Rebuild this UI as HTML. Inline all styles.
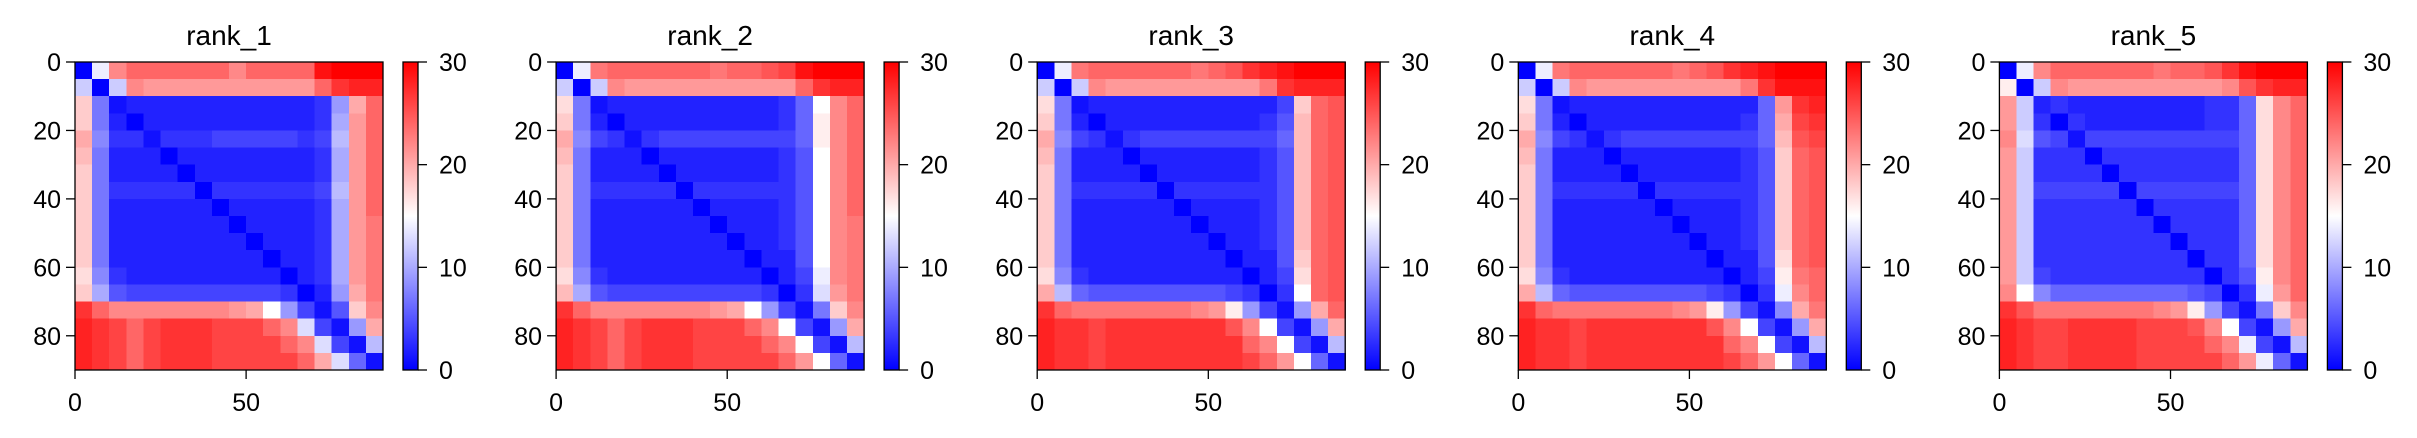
<!DOCTYPE html>
<html><head><meta charset="utf-8">
<style>
html,body{margin:0;padding:0;background:#fff;}
svg{display:block;font-family:"Liberation Sans","DejaVu Sans",sans-serif;}
</style></head>
<body>
<svg id="fig" width="2417" height="438" viewBox="0 0 2417 438" xmlns="http://www.w3.org/2000/svg">
<defs>
<linearGradient id="bwr" x1="0" y1="1" x2="0" y2="0">
<stop offset="0" stop-color="#0000ff"/><stop offset="0.5" stop-color="#ffffff"/><stop offset="1" stop-color="#ff0000"/>
</linearGradient>
</defs>
</svg>
<script>
const panelTitles = ["rank_1","rank_2","rank_3","rank_4","rank_5"];
const xTicks = [0,50];
const yTicks = [0,20,40,60,80];
const cbTicks = [0,10,20,30];
const nRes = 90;
const vMax = 30;
const pae1 = [
[0,14,22,24,24,24,24,24,24,22,24,24,24,24,29,30,30,30],
[12,0,12,22,21,21,21,21,21,21,21,21,21,21,24,27,28,28],
[18,7,1,2,2,2,2,2,2,2,2,2,2,2,3,9,20,24],
[18,7,2,0,2,2,2,2,2,2,2,2,2,2,3,10,21,24],
[20,8,3,3,1,3,3,3,4,4,4,4,4,3,4,11,21,24],
[19,7,2,2,2,0,2,2,2,2,2,2,2,2,3,10,21,24],
[18,7,2,2,2,2,0,2,2,2,2,2,2,2,3,10,21,24],
[18,7,3,3,3,3,3,0,3,3,3,3,3,3,4,11,21,24],
[18,7,2,2,2,2,2,2,0,2,2,2,2,2,3,10,21,24],
[18,7,2,2,2,2,2,2,2,0,2,2,2,2,3,10,21,23],
[18,7,2,2,2,2,2,2,2,2,0,2,2,2,3,10,21,23],
[18,7,2,2,2,2,2,2,2,2,2,0,2,2,3,10,21,23],
[17,8,3,2,2,2,2,2,2,2,2,2,0,2,3,10,21,23],
[18,10,5,4,4,4,4,4,4,4,4,4,3,0,2,9,20,23],
[27,24,22,22,22,22,22,22,22,21,20,15,9,4,1,5,18,22],
[28,27,26,24,26,27,27,27,26,26,26,24,22,13,4,1,9,20],
[28,27,26,24,26,27,27,27,26,26,26,26,24,22,13,4,1,11],
[28,27,26,24,26,27,27,27,26,26,26,26,26,24,20,13,6,1]];
const pae2 = [
[0,14,23,24,24,24,24,24,24,23,24,24,25,26,29,30,30,30],
[12,0,12,22,21,21,21,21,21,21,21,21,21,21,24,27,28,28],
[17,7,1,2,2,2,2,2,2,2,2,2,2,3,6,15,22,24],
[18,7,2,0,2,2,2,2,2,2,2,2,2,3,6,16,22,24],
[20,8,4,3,1,3,4,4,4,4,4,4,4,4,6,16,22,24],
[19,7,2,2,2,0,2,2,2,2,2,2,2,3,5,15,22,24],
[18,7,2,2,2,2,0,2,2,2,2,2,2,3,5,15,22,24],
[18,7,3,3,3,3,3,0,3,3,3,3,3,3,5,15,22,24],
[18,7,2,2,2,2,2,2,0,2,2,2,2,3,5,15,22,24],
[18,7,2,2,2,2,2,2,2,0,2,2,2,3,5,15,22,23],
[18,7,2,2,2,2,2,2,2,2,0,2,2,3,5,15,22,23],
[18,7,2,2,2,2,2,2,2,2,2,0,2,2,5,15,22,23],
[17,8,3,2,2,2,2,2,2,2,2,2,0,2,4,14,22,23],
[19,10,5,4,4,4,4,4,4,4,4,4,3,0,3,13,21,23],
[27,24,22,22,22,22,22,22,22,21,20,15,9,4,1,7,18,22],
[28,27,26,24,26,27,27,27,26,26,26,24,22,15,4,1,9,20],
[28,27,26,24,26,27,27,27,26,26,26,26,24,22,15,4,1,11],
[28,27,26,24,26,27,27,27,26,26,26,26,26,24,21,15,6,1]];
const pae3 = [
[0,14,23,24,24,24,24,24,24,23,24,25,27,28,29,30,30,30],
[12,0,12,22,21,21,21,21,21,21,21,21,21,23,27,28,28,28],
[17,7,1,2,2,2,2,2,2,2,2,2,2,2,4,18,24,25],
[18,7,2,0,2,2,2,2,2,2,2,2,2,3,5,19,24,25],
[20,8,4,3,1,3,4,4,4,4,4,4,4,4,6,19,24,25],
[19,7,2,2,2,0,2,2,2,2,2,2,2,3,5,19,24,25],
[18,7,2,2,2,2,0,2,2,2,2,2,2,3,5,19,24,25],
[18,7,3,3,3,3,3,0,3,3,3,3,3,3,5,19,24,25],
[18,7,2,2,2,2,2,2,0,2,2,2,2,3,5,19,24,25],
[18,7,2,2,2,2,2,2,2,0,2,2,2,3,5,19,24,25],
[18,7,2,2,2,2,2,2,2,2,0,2,2,3,5,19,24,25],
[18,7,2,2,2,2,2,2,2,2,2,0,2,2,5,18,24,25],
[17,8,3,2,2,2,2,2,2,2,2,2,0,2,4,17,24,25],
[20,11,6,5,5,5,5,5,5,5,5,4,3,0,3,15,24,25],
[27,24,23,23,23,23,23,23,23,22,21,16,9,4,1,9,20,24],
[28,27,27,26,27,27,27,27,27,27,27,25,22,15,4,1,9,20],
[28,27,27,26,27,27,27,27,27,27,27,27,24,22,15,4,1,11],
[28,27,27,26,27,27,27,27,27,27,27,27,26,24,21,15,6,1]];
const pae4 = [
[0,14,23,24,24,24,24,24,24,23,24,25,27,28,29,30,30,30],
[12,0,12,22,21,21,21,21,21,21,21,21,21,23,27,29,29,29],
[17,7,1,2,2,2,2,2,2,2,2,2,2,2,6,21,27,28],
[18,7,2,0,2,2,2,2,2,2,2,2,2,3,6,20,26,27],
[20,8,4,3,1,3,4,4,4,4,4,4,4,4,6,19,25,26],
[19,7,2,2,2,0,2,2,2,2,2,2,2,3,5,18,24,25],
[18,7,2,2,2,2,0,2,2,2,2,2,2,3,5,18,24,25],
[18,7,3,3,3,3,3,0,3,3,3,3,3,3,5,18,24,25],
[18,7,2,2,2,2,2,2,0,2,2,2,2,3,5,18,24,25],
[18,7,2,2,2,2,2,2,2,0,2,2,2,3,5,18,24,25],
[18,7,2,2,2,2,2,2,2,2,0,2,2,3,5,18,24,25],
[18,7,2,2,2,2,2,2,2,2,2,0,2,2,5,17,24,25],
[17,8,3,2,2,2,2,2,2,2,2,2,0,2,4,16,23,24],
[20,11,6,5,5,5,5,5,5,5,5,4,3,0,3,14,22,24],
[27,24,23,23,23,23,23,23,23,22,21,16,9,4,1,8,20,23],
[28,27,27,26,27,27,27,27,27,27,27,25,22,15,4,1,9,20],
[28,27,27,26,27,27,27,27,27,27,27,27,24,22,15,4,1,11],
[28,27,27,26,27,27,27,27,27,27,27,27,26,24,21,15,6,1]];
const pae5 = [
[0,14,22,24,24,24,24,24,24,23,24,24,25,27,29,30,30,30],
[16,0,12,22,21,21,21,21,21,21,21,21,21,22,25,27,28,28],
[21,12,2,3,2,2,2,2,2,2,2,2,3,3,6,17,22,24],
[21,12,3,0,3,2,2,2,2,2,2,2,3,3,6,17,22,24],
[22,13,5,4,1,4,4,4,4,4,4,4,4,4,6,17,22,24],
[21,12,3,3,3,0,3,3,3,3,3,3,3,3,6,17,22,24],
[21,12,3,3,3,3,0,3,3,3,3,3,3,3,6,17,22,24],
[21,12,4,4,4,4,4,0,4,4,4,4,4,4,6,17,22,24],
[21,12,3,3,3,3,3,3,0,3,3,3,3,3,6,17,22,24],
[21,12,3,3,3,3,3,3,3,0,3,3,3,3,6,17,22,24],
[21,12,3,3,3,3,3,3,3,3,0,3,3,3,6,17,22,24],
[21,12,3,3,3,3,3,3,3,3,3,0,3,3,6,17,22,24],
[21,12,4,3,3,3,3,3,3,3,3,3,0,3,5,16,22,24],
[22,15,8,6,6,6,6,6,6,6,6,5,4,0,3,14,21,24],
[27,25,23,23,23,23,23,23,23,22,21,16,9,4,1,7,18,22],
[28,27,26,26,27,27,27,27,26,26,26,25,22,15,4,1,9,20],
[28,27,26,26,27,27,27,27,26,26,26,26,24,22,14,4,1,11],
[28,27,26,26,27,27,27,27,26,26,26,26,26,24,21,14,6,1]];
const paeData = [pae1,pae2,pae3,pae4,pae5];

const NS = "http://www.w3.org/2000/svg";
const svg = document.getElementById("fig");
const axTop = 62, axSize = 308, firstLeft = 75, panelStep = 481.1;
const cbOff = 328, cbW = 15;

function bwr(v){
  let t = Math.max(0, Math.min(1, v / vMax));
  let r,g,b;
  if (t < 0.5){ const s = t/0.5; r = Math.round(255*s); g = r; b = 255; }
  else { const s = (t-0.5)/0.5; r = 255; g = Math.round(255*(1-s)); b = g; }
  return `rgb(${r},${g},${b})`;
}
function mk(tag, attrs, parent){
  const e = document.createElementNS(NS, tag);
  for (const k in attrs) e.setAttribute(k, attrs[k]);
  (parent||svg).appendChild(e);
  return e;
}
function txt(s, attrs, parent){
  const e = mk("text", attrs, parent);
  e.textContent = s;
  return e;
}

paeData.forEach((M, p) => {
  const left = firstLeft + p*panelStep;
  const sx = v => left + v/nRes*axSize;
  const sy = v => axTop + v/nRes*axSize;
  const g = mk("g", {});
  
  
  const hm = mk("g", {"shape-rendering":"crispEdges"}, g);
  
  
  const nb = M.length, bs = nRes/nb;
  M.forEach((row, i) => row.forEach((v, j) => {
    const x0 = sx(j*bs), y0 = sy(i*bs);
    const c = mk("rect", {x:x0, y:y0, width:sx((j+1)*bs)-x0+0.6, height:sy((i+1)*bs)-y0+0.6, fill:bwr(v)}, hm);
    
    
  }));
  const fr = mk("rect", {x:left, y:axTop, width:axSize, height:axSize, fill:"none", stroke:"#000", "stroke-width":1.3}, g);
  
  
  const t = txt(panelTitles[p], {x:left+axSize/2, y:45, "text-anchor":"middle", "font-size":28, fill:"#000"}, g);
  
  
  yTicks.forEach(v => {
    const y = sy(v);
    mk("line", {x1:left-9, x2:left, y1:y, y2:y, stroke:"#000", "stroke-width":1.3}, g);
    const l = txt(String(v), {x:left-14, y:y+9, "text-anchor":"end", "font-size":25, fill:"#000"}, g);
    
    
  });
  xTicks.forEach(v => {
    const x = sx(v);
    mk("line", {x1:x, x2:x, y1:axTop+axSize, y2:axTop+axSize+9, stroke:"#000", "stroke-width":1.3}, g);
    const l = txt(String(v), {x:x, y:411, "text-anchor":"middle", "font-size":25, fill:"#000"}, g);
    
    
  });
  const cbx = left + cbOff;
  const cb = mk("rect", {x:cbx, y:axTop, width:cbW, height:axSize, fill:"url(#bwr)", stroke:"#000", "stroke-width":1.3}, g);
  
  
  cbTicks.forEach(v => {
    const y = axTop + axSize - v/vMax*axSize;
    mk("line", {x1:cbx+cbW, x2:cbx+cbW+9, y1:y, y2:y, stroke:"#000", "stroke-width":1.3}, g);
    const l = txt(String(v), {x:cbx+cbW+21, y:y+9, "text-anchor":"start", "font-size":25, fill:"#000"}, g);
    
    
  });
});
</script>
</body></html>
